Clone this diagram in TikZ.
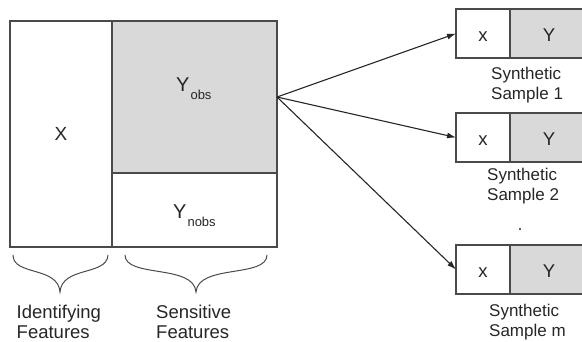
\documentclass[tikz,border=0pt]{standalone}
\usepackage{fontspec}
\setmainfont{Liberation Sans}
\usetikzlibrary{arrows.meta}
\definecolor{ln}{HTML}{4A4A4A}
\definecolor{tx}{HTML}{262626}
\definecolor{gy}{HTML}{D9D9D9}
\tikzset{
  cell/.style={draw=ln, line width=1.2pt, inner sep=0pt, outer sep=0pt, anchor=north west, text=tx},
  big/.style={font=\fontsize{19}{19}\selectfont},
  sm/.style={font=\fontsize{18.5}{18.5}\selectfont},
  lbl/.style={text=tx, inner sep=0pt, anchor=base west, font=\fontsize{18.5}{18.5}\selectfont},
  slbl/.style={text=tx, inner sep=0pt, anchor=base west, font=\fontsize{17}{17}\selectfont},
  brc/.style={draw=ln, line width=1pt},
  arr/.style={draw=black!85, line width=1.1pt, -{Latex[length=9pt,width=6pt]}},
}
\begin{document}
\begin{tikzpicture}[x=1pt,y=-1pt]
\useasboundingbox (0,0) rectangle (582,341);
% main table
\node[cell, big, minimum width=102pt, minimum height=226pt] (X) at (10,21) {X};
\node[cell, fill=gy, minimum width=165pt, minimum height=152pt] (Yobs) at (112,21) {};
\node[cell, minimum width=165pt, minimum height=74pt] (Ynobs) at (112,173) {};
\node[text=tx, inner sep=0pt, anchor=base west, font=\fontsize{20}{20}\selectfont] (tYobs) at (176,91.7)
  {Y\kern1pt\raisebox{-8pt}{\fontsize{13}{13}\selectfont obs}};
\node[text=tx, inner sep=0pt, anchor=base west, font=\fontsize{20}{20}\selectfont] (tYnobs) at (173,218.3)
  {Y\kern1pt\raisebox{-7.7pt}{\fontsize{13}{13}\selectfont nobs}};
% braces
\draw[brc] (13,255) .. controls (13,276) and (58,266) .. (60,292)
           .. controls (62,266) and (107,276) .. (108,255);
\draw[brc] (125,255) .. controls (125,278) and (194,264) .. (196,292)
           .. controls (198,264) and (267,278) .. (267,255);
\node[lbl] (l1a) at (16.5,318) {Identifying};
\node[lbl] (l1b) at (16.5,338) {Features};
\node[lbl] (l2a) at (156,318) {Sensitive};
\node[lbl] (l2b) at (156,338) {Features};
% samples
\foreach \i/\t in {1/9,2/113,3/245}{
  \node[cell, minimum width=54pt, minimum height=49pt] (sx\i) at (456,\t) {};
  \node[cell, fill=gy, minimum width=80pt, minimum height=49pt] (sy\i) at (510,\t) {};
  \node[text=tx, sm, inner sep=0pt, anchor=base] (tx\i) at (483,\t+32) {x};
  \node[text=tx, sm, inner sep=0pt, anchor=base] (ty\i) at (549,\t+32) {Y};
}
\node[slbl] (s1a) at (491,79) {Synthetic};
\node[slbl] (s1b) at (491,99.3) {Sample 1};
\node[slbl] (s2a) at (487,180) {Synthetic};
\node[slbl] (s2b) at (487,200.3) {Sample 2};
\node[slbl] (s3a) at (489,316) {Synthetic};
\node[slbl] (s3b) at (489,336) {Sample m};
\fill[tx] (520,229) circle (1.1pt);
% arrows
\coordinate (src) at (277,97);
\draw[arr] (src) -- (sx1.west);
\draw[arr] (src) -- (sx2.west);
\draw[arr] (src) -- (sx3.west);
\end{tikzpicture}
\end{document}
